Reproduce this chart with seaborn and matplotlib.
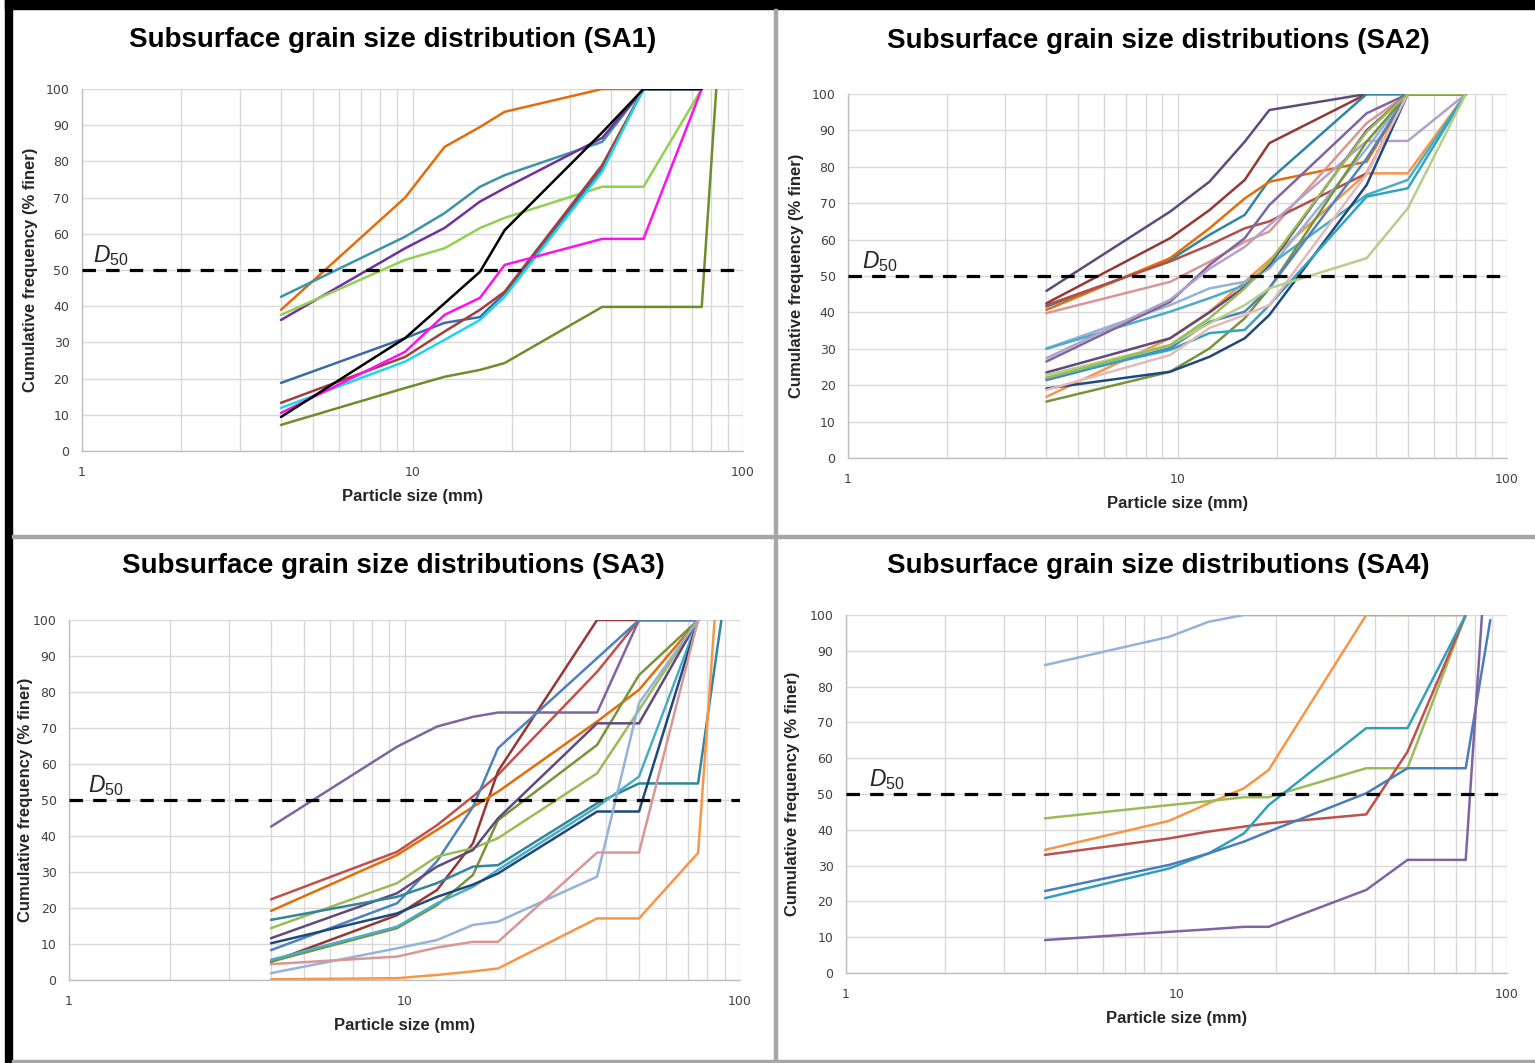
import numpy as np
import pandas as pd
import matplotlib
matplotlib.use("Agg")
import matplotlib.pyplot as plt
import seaborn as sns
from matplotlib.patches import Rectangle
from matplotlib.ticker import LogLocator, NullFormatter, FixedLocator

sns.set_theme(style="whitegrid")
plt.rcParams["font.family"] = ["Liberation Sans", "DejaVu Sans"]
plt.rcParams["mathtext.fontset"] = "custom"
plt.rcParams["mathtext.it"] = "Liberation Sans:italic"
plt.rcParams["mathtext.rm"] = "Liberation Sans"

# ---- data (sieve sizes in mm, cumulative % finer) ----
sa1_sizes = [4, 9.5, 12.5, 16, 19, 37.5, 50, 75, 83]
sa1_orange = [39, 70, 84, 89.5, 93.7, 100, 100, 100, None]
sa1_teal = [42.6, 59.2, 65.7, 73, 76.2, 85.4, 100, 100, None]
sa1_purple = [36.2, 56, 61.6, 68.9, 72.6, 86.5, 100, 100, None]
sa1_lightgreen = [37.6, 52.8, 56, 61.6, 64.4, 73, 73, 100, None]
sa1_black = [9.4, 31.2, 40.8, 49.5, 61, 88, 100, 100, None]
sa1_magenta = [10.5, 27.4, 37.6, 42.3, 51.4, 58.6, 58.6, 100, None]
sa1_brown = [13.3, 26, 33, 39, 44, 79, 100, 100, None]
sa1_cyan = [11.9, 24.7, 30.7, 36.2, 42.6, 77.2, 100, 100, None]
sa1_blue = [18.8, 31.2, 35.4, 37, 43.6, 78, 100, 100, None]
sa1_olive = [7.2, 17.4, 20.5, 22.4, 24.3, 39.8, 39.8, 39.8, 100]

sa2_sizes = [4, 9.5, 12.5, 16, 19, 37.5, 50, 75]
sa2_s01 = [45.9, 67.7, 75.9, 86.9, 95.6, 100, 100, 100]
sa2_s02 = [42.5, 60.4, 68.1, 76.4, 86.5, 100, 100, 100]
sa2_s03 = [41.6, 54.4, 61.3, 66.8, 76.4, 100, 100, 100]
sa2_s04 = [40.7, 54.9, 63.1, 71.3, 75.9, 81.4, 100, 100]
sa2_s05 = [16.8, 32.9, 40.2, 48.4, 54.4, 78.2, 78.2, 100]
sa2_s06 = [39.8, 48.4, 53.9, 59.4, 62.2, 92, 100, 100]
sa2_s07 = [42.0, 54.0, 58.5, 63.1, 65.0, 78.2, 100, 100]
sa2_s08 = [30.1, 42, 46.6, 48.4, 52, 85, 100, 100]
sa2_s09 = [30, 40.2, 43.9, 47.5, 53, 72.3, 76.4, 100]
sa2_s10 = [26.5, 42.9, 53, 60.4, 69.5, 94.7, 100, 100]
sa2_s11 = [27.4, 43.5, 52, 58, 64, 87.1, 87.1, 100]
sa2_s12 = [23.5, 32.9, 40, 47, 53, 90, 100, 100]
sa2_s13 = [15.5, 23.7, 30.1, 38.4, 46.6, 86.9, 100, 100]
sa2_s14 = [19.1, 23.7, 27.8, 32.9, 39.3, 75, 100, 100]
sa2_s15 = [21.4, 30.2, 37.4, 40.2, 46.7, 82.3, 100, 100]
sa2_s16 = [22, 29.7, 34.3, 35.2, 42, 71.8, 74.1, 100]
sa2_s17 = [18.7, 28.3, 35.7, 39.3, 42, 78, 100, 100]
sa2_s18 = [22.8, 31, 37, 42, 46.6, 54.9, 68.6, 100]
sa2_s19 = [22, 31, 38.4, 46.6, 53.8, 89.6, 100, 100]

sa3_sizes = [4, 9.5, 12.5, 16, 19, 37.5, 50, 75, 84, 88]
sa3_s01 = [42.6, 64.8, 70.4, 73.1, 74.3, 74.3, 100, 100, None, None]
sa3_s02 = [22.4, 35.6, 43, 51, 57, 85.6, 100, 100, None, None]
sa3_s03 = [5, 18, 25, 38, 58, 100, 100, 100, None, None]
sa3_s04 = [19.2, 34.7, 41.7, 48.1, 52.3, 71.8, 80.6, 100, None, None]
sa3_s05 = [8.3, 21.3, 33, 48.1, 64.4, 89.4, 100, 100, None, None]
sa3_s06 = [5.1, 14.4, 20.8, 29.2, 44.4, 65.3, 84.7, 100, None, None]
sa3_s07 = [14.4, 26.9, 34.3, 36.6, 39.4, 57.4, 75, 100, None, None]
sa3_s08 = [11.6, 24.1, 31.5, 36.1, 44.9, 71.3, 71.3, 100, None, None]
sa3_s09 = [16.7, 23.1, 26.9, 31.5, 31.9, 49.1, 54.6, 54.6, None, 100]
sa3_s10 = [5.6, 14.8, 21.3, 25.9, 30.6, 48.1, 56.5, 100, None, None]
sa3_s11 = [10.2, 18.5, 23.1, 26.5, 29.6, 46.8, 46.8, 100, None, None]
sa3_s12 = [1.9, 8.8, 11.1, 15.3, 16.2, 28.7, 76.9, 100, None, None]
sa3_s13 = [4.4, 6.5, 9, 10.6, 10.6, 35.4, 35.4, 100, None, None]
sa3_s14 = [0.2, 0.5, 1.4, 2.4, 3.2, 17.1, 17.1, 35.3, 100, None]

sa4_sizes = [4, 9.5, 12.5, 16, 19, 37.5, 50, 75, 84, 89]
sa4_s01 = [86, 93.9, 98.1, 100, 100, 100, 100, 100, None, None]
sa4_s02 = [34.4, 42.5, 47.4, 51.6, 56.7, 100, 100, 100, None, None]
sa4_s03 = [43.2, 46.9, 48, 49.1, 49.1, 57.2, 57.2, 100, None, None]
sa4_s04 = [33, 37.6, 39.5, 40.9, 41.8, 44.3, 61.8, 100, None, None]
sa4_s05 = [20.9, 29.2, 33.4, 39, 46.9, 68.4, 68.4, 100, None, None]
sa4_s06 = [22.9, 30.2, 33.4, 36.7, 39.5, 50.2, 57.2, 57.2, None, 98.6]
sa4_s07 = [9.2, 11.5, 12.2, 12.9, 12.9, 23.2, 31.6, 31.6, 100, None]

titles = ["Subsurface grain size distribution (SA1)",
          "Subsurface grain size distributions (SA2)",
          "Subsurface grain size distributions (SA3)",
          "Subsurface grain size distributions (SA4)"]

panels = [
    (sa1_sizes,
     [sa1_orange, sa1_teal, sa1_purple, sa1_lightgreen, sa1_blue, sa1_brown,
      sa1_cyan, sa1_magenta, sa1_black, sa1_olive],
     ["#E46C0A", "#3B94AA", "#7030A0", "#92D050", "#3A6BA8", "#A0403D",
      "#1ED6EA", "#FF10F0", "#000000", "#6E8E2A"]),
    (sa2_sizes,
     [sa2_s01, sa2_s02, sa2_s03, sa2_s04, sa2_s05, sa2_s06, sa2_s07, sa2_s08,
      sa2_s09, sa2_s10, sa2_s11, sa2_s12, sa2_s13, sa2_s14, sa2_s15, sa2_s16,
      sa2_s17, sa2_s18, sa2_s19],
     ["#604A7B", "#953735", "#31859C", "#E46C0A", "#F79646", "#D99694",
      "#B0504D", "#95B3D7", "#4BACC6", "#8064A2", "#B3A2C7", "#604A7B",
      "#77933C", "#1F497D", "#4F81BD", "#31A5C0", "#E6B9B8", "#B5CF8A",
      "#9BBB59"]),
    (sa3_sizes,
     [sa3_s01, sa3_s02, sa3_s03, sa3_s04, sa3_s05, sa3_s06, sa3_s07, sa3_s08,
      sa3_s09, sa3_s10, sa3_s11, sa3_s12, sa3_s13, sa3_s14],
     ["#8064A2", "#C0504D", "#953735", "#E46C0A", "#4F81BD", "#77933C",
      "#9BBB59", "#604A7B", "#31859C", "#4BACC6", "#1F497D", "#95B3D7",
      "#D99694", "#F79646"]),
    (sa4_sizes,
     [sa4_s01, sa4_s02, sa4_s03, sa4_s04, sa4_s05, sa4_s06, sa4_s07],
     ["#95B3D7", "#F79646", "#9BBB59", "#C0504D", "#31A0B8", "#4A7EBB",
      "#8064A2"]),
]

# axes boxes in pixels: left, right, top, bottom
W, H = 1535, 1063
boxes = [(82, 743, 89, 451), (848, 1507, 94, 458),
         (69, 740, 620, 980), (846, 1507, 615, 973)]
ylabel_x = [38, 804, 33, 800]
title_pos = [(393, 40), (1158, 41), (393, 566), (1158, 566)]
d50_x = [1.08, 1.10, 1.14, 1.17]

fig = plt.figure(figsize=(W / 100, H / 100), dpi=100)
fig.patch.set_facecolor("white")

grey_txt = "#404040"
for k, (sizes, series, colors) in enumerate(panels):
    l, r, t, b = boxes[k]
    ax = fig.add_axes([l / W, 1 - b / H, (r - l) / W, (b - t) / H])
    ax.set_facecolor("white")

    rows = []
    for i, vals in enumerate(series):
        for s, v in zip(sizes, vals):
            if v is not None:
                rows.append({"size": s, "pct": v, "series": f"s{i}"})
    df = pd.DataFrame(rows)
    pal = {f"s{i}": c for i, c in enumerate(colors)}
    sns.lineplot(data=df, x="size", y="pct", hue="series", palette=pal,
                 estimator=None, linewidth=1.8, legend=False, ax=ax)

    ax.axhline(50, color="black", lw=2.3, ls=(0, (4.2, 3.2)), zorder=5)

    ax.set_xscale("log")
    ax.set_xlim(1, 100)
    ax.set_ylim(0, 100)
    ax.xaxis.set_major_locator(FixedLocator([1, 10, 100]))
    ax.xaxis.set_minor_locator(LogLocator(base=10, subs=np.arange(2, 10)))
    ax.xaxis.set_minor_formatter(NullFormatter())
    ax.set_xticklabels(["1", "10", "100"])
    ax.set_yticks(np.arange(0, 101, 10))
    ax.grid(True, which="both", color="#D9D9D9", lw=1.0)
    for sp in ["top", "right"]:
        ax.spines[sp].set_visible(False)
    for sp in ["left", "bottom"]:
        ax.spines[sp].set_color("#BFBFBF")
        ax.spines[sp].set_linewidth(1.0)
    ax.tick_params(axis="both", which="major", length=4, color="#BFBFBF",
                   labelsize=9, labelcolor=grey_txt, direction="out")
    ax.tick_params(axis="x", which="major", pad=7)
    ax.tick_params(axis="y", which="major", pad=5)
    ax.tick_params(axis="x", which="minor", length=0)
    for lab in ax.get_xticklabels() + ax.get_yticklabels():
        lab.set_family(["DejaVu Sans"])

    ax.set_xlabel("Particle size (mm)", fontsize=12, fontweight="bold",
                  color="#262626")
    ax.xaxis.set_label_coords(0.5, -38 / (b - t))
    ax.set_ylabel("Cumulative frequency (% finer)", fontsize=12,
                  fontweight="bold", color="#262626")
    ax.yaxis.set_label_coords((ylabel_x[k] - l) / (r - l), 0.5)

    ax.text(d50_x[k], 52.3, r"$\mathit{D_{50}}$", fontsize=16.5,
            color="#262626", ha="left", va="baseline")

    tx, ty = title_pos[k]
    fig.text(tx / W, 1 - ty / H, titles[k], ha="center", va="center",
             fontsize=20, fontweight="bold", color="black")

# frame of the tiled screenshot
fig.patches.append(Rectangle((5 / W, 0), 7 / W, 1, transform=fig.transFigure,
                             color="black", zorder=10))
fig.patches.append(Rectangle((5 / W, 1 - 9 / H), 1 - 5 / W, 9 / H,
                             transform=fig.transFigure, color="black", zorder=10))
fig.patches.append(Rectangle((774 / W, 0), 3 / W, 1 - 9 / H,
                             transform=fig.transFigure, color="#A6A6A6", zorder=10))
fig.patches.append(Rectangle((12 / W, 1 - 538 / H), 1, 3 / H,
                             transform=fig.transFigure, color="#A6A6A6", zorder=10))
fig.patches.append(Rectangle((12 / W, 0), 1, 3 / H,
                             transform=fig.transFigure, color="#A6A6A6", zorder=10))

fig.savefig("out.png", dpi=100, facecolor="white")
